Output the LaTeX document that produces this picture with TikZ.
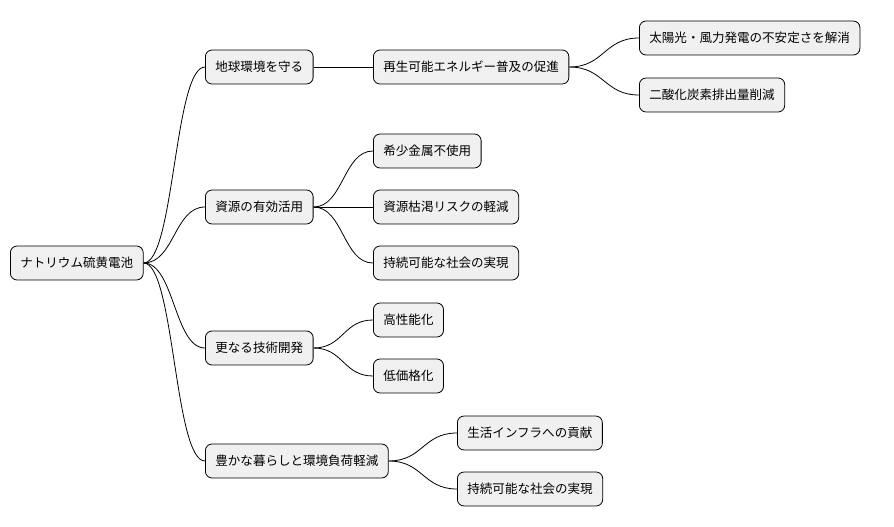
\documentclass[tikz,border=0pt]{standalone}
\usepackage{fontspec}
\setmainfont{Noto Sans CJK JP}
\usetikzlibrary{calc}
\begin{document}
\begin{tikzpicture}[
	x=0.75pt, y=-0.75pt,
	topic/.style={rectangle, rounded corners=5pt, fill=black!6, draw=black, line width=0.6pt, font=\fontsize{9.4}{11}\selectfont, anchor=west, minimum height=25.5pt, inner xsep=7.5pt, inner ysep=0pt},
	link/.style={draw=black, line width=0.6pt},
]
\useasboundingbox (0,0) rectangle (894,527);
\node[topic] (root) at (10,263) {ナトリウム硫黄電池};
% level 1
\node[topic] (earth) at (205,67) {地球環境を守る};
\node[topic] (res) at (205,207) {資源の有効活用};
\node[topic] (tech) at (205,348) {更なる技術開発};
\node[topic] (life) at (205,461) {豊かな暮らしと環境負荷軽減};
% level 2
\node[topic] (renew) at (373,67) {再生可能エネルギー普及の促進};
\node[topic] (rare) at (373,151) {希少金属不使用};
\node[topic] (risk) at (373,207) {資源枯渇リスクの軽減};
\node[topic] (sust) at (373,263) {持続可能な社会の実現};
\node[topic] (perf) at (373,320) {高性能化};
\node[topic] (cost) at (373,376) {低価格化};
\node[topic] (infra) at (457,433) {生活インフラへの貢献};
\node[topic] (sust2) at (457,489) {持続可能な社会の実現};
% level 3
\node[topic] (solar) at (639,38) {太陽光・風力発電の不安定さを解消};
\node[topic] (co2) at (639,95) {二酸化炭素排出量削減};
% branches
\foreach \p/\c in {root/earth, root/res, root/tech, root/life,
	earth/renew, res/rare, res/risk, res/sust, tech/perf, tech/cost,
	life/infra, life/sust2, renew/solar, renew/co2}
{
	\coordinate (m1) at ($(\p.east)!0.5!(\c.west)$);
	\draw[link] (\p.east) .. controls (m1 |- \p.east) and (m1 |- \c.west) .. (\c.west);
}
\end{tikzpicture}
\end{document}
